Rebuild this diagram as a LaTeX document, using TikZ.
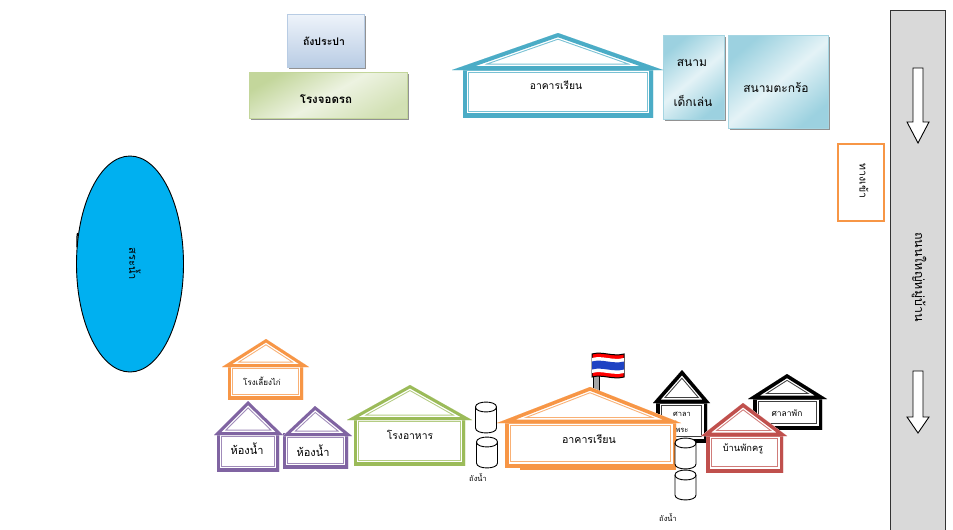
\documentclass[tikz,border=0pt]{standalone}
\usepackage{fontspec}
\usetikzlibrary{shapes.geometric,shadows}
\newfontfamily\thaifont[Script=Thai]{Loma}
\definecolor{hblue}{HTML}{4BACC6}
\definecolor{horange}{HTML}{F79646}
\definecolor{hpurple}{HTML}{8064A2}
\definecolor{hgreen}{HTML}{9BBB59}
\definecolor{hred}{HTML}{C0504D}
\definecolor{lakeblue}{HTML}{00B0F0}
\definecolor{roadgray}{HTML}{D9D9D9}
\definecolor{tapdark}{HTML}{B8CCE4}
\definecolor{taplight}{HTML}{EEF3FA}
\tikzset{
  thlabel/.style={font=\thaifont\fontsize{#1}{#1}\selectfont,text=black,inner sep=0pt},
  thlabel/.default=8,
  thbold/.style={font=\thaifont\bfseries\fontsize{#1}{#1}\selectfont,text=black,inner sep=0pt},
  softbox/.style={draw=#1,line width=0.8pt,anchor=north west,inner sep=0pt,
    drop shadow={shadow xshift=1.8pt,shadow yshift=-1.8pt,opacity=.85,fill=black!50}},
  tankline/.style={draw=black,fill=white,line width=0.9pt},
  roadarrow/.style={draw=black,fill=white,line width=0.9pt}
}
\newlength{\hband}
\newcommand{\compound}[2]{%
  \begin{scope}
    \clip #2;
    \fill[white] #2;
    \draw[#1!75,line width=2\hband+4.6pt,miter limit=20] #2;
    \draw[white,line width=2\hband+2.6pt,miter limit=20] #2;
    \draw[#1,line width=2\hband,miter limit=20] #2;
  \end{scope}}
% #1 colour, #2 apex x, #3 apex y, #4 eave left, #5 eave right, #6 eave y, #7 body left, #8 body right, #9 body bottom
\newcommand{\house}[9]{%
  \compound{#1}{(#7,#6-3) rectangle (#8,#9)}%
  \compound{#1}{(#4,#6) -- (#2,#3) -- (#5,#6) -- cycle}}
\newcommand{\flagband}[4][]{%
  \path[#1,fill=#4] (592,#2) .. controls (602,#2-3) and (613,#2+3) .. (624,#2) -- (624,#3)
    .. controls (613,#3+3) and (602,#3-3) .. (592,#3) -- cycle;}
% #1 name, #2 centre x, #3 top y, #4 height
\newcommand{\tankshape}[4]{%
  \coordinate (#1) at (#2,#3);
  \path[tankline] (#2-10.5,#3+5) .. controls (#2-10.5,#3-1.6) and (#2+10.5,#3-1.6) .. (#2+10.5,#3+5)
     -- (#2+10.5,#3+#4-5) .. controls (#2+10.5,#3+#4+1.6) and (#2-10.5,#3+#4+1.6) .. (#2-10.5,#3+#4-5) -- cycle;
  \draw[black,line width=0.9pt] (#2-10.5,#3+5) .. controls (#2-10.5,#3+11.6) and (#2+10.5,#3+11.6) .. (#2+10.5,#3+5);}
\begin{document}
\begin{tikzpicture}[x=1pt,y=-1pt]
\useasboundingbox (0,0) rectangle (953,530);
\fill[white] (0,0) rectangle (953,530);

% lake
\node[ellipse,draw=black,fill=lakeblue,line width=0.9pt,minimum width=107pt,minimum height=216pt,inner sep=0pt] (lake) at (130,264) {};
\draw[black,line width=1.2pt] (77.5,233) .. controls (76.8,237) and (76.8,242) .. (77,247);
\node[thlabel=11,rotate=-90] (laketext) at (135,264) {สระน้ำ};

% top boxes
\node[softbox=tapdark,minimum width=77pt,minimum height=53pt,top color=taplight,bottom color=tapdark] (tap) at (287,14) {};
\node[thbold=10.5] (taptext) at (324,41) {ถังประปา};
\node[softbox=hgreen!60,minimum width=158pt,minimum height=46pt,left color=hgreen!60,right color=hgreen!45,middle color=hgreen!18,shading angle=30] (garage) at (249,72) {};
\node[thbold=11.5] (garagetext) at (326,99) {โรงจอดรถ};
\node[softbox=hblue!50,minimum width=61pt,minimum height=84pt,left color=hblue!55,right color=hblue!55,middle color=hblue!15,shading angle=40] (play) at (663,35) {};
\node[thlabel=12] (playa) at (692,63) {สนาม};
\node[thlabel=12] (playb) at (693,101) {เด็กเล่น};
\node[softbox=hblue!50,minimum width=100pt,minimum height=93pt,left color=hblue!55,right color=hblue!55,middle color=hblue!15,shading angle=40] (takraw) at (728,35) {};
\node[thlabel=12] (takrawtext) at (776,88) {สนามตะกร้อ};

% top classroom
\setlength{\hband}{4pt}
\house{hblue}{558}{33}{452}{663}{70}{463}{653}{117}
\node[thlabel=10.3] (classa) at (556,85) {อาคารเรียน};

% road
\node[draw=black!80,fill=roadgray,line width=0.9pt,minimum width=55pt,minimum height=530pt,anchor=north west,inner sep=0pt] (road) at (890,10) {};
\draw[roadarrow] (913,68) -- (923,68) -- (923,122) -- (929,122) -- (918,143) -- (907,122) -- (913,122) -- cycle;
\draw[roadarrow] (913,371) -- (923,371) -- (923,417) -- (929,417) -- (918,433) -- (907,417) -- (913,417) -- cycle;
\node[thlabel=12.5,rotate=-90] (roadtext) at (919,277) {ถนนใหญ่หมู่บ้าน};

% entrance box
\node[draw=horange,fill=white,line width=2.2pt,minimum width=46pt,minimum height=77pt,anchor=north west,inner sep=0pt] (gate) at (837,143) {};
\node[thlabel=10.5,rotate=-90] (gatetext) at (864,181) {ทางเข้า};

% lower left group
\setlength{\hband}{3pt}
\house{horange}{266}{339}{222}{309}{367}{228}{303}{399}
\node[thlabel=8] (chicken) at (262,381) {โรงเลี้ยงไก่};
\house{hpurple}{248}{401}{214}{283}{435}{217}{279}{471}
\node[thlabel=11] (wca) at (247,449) {ห้องน้ำ};
\house{hpurple}{315}{406}{283}{352}{436}{283}{348}{468}
\node[thlabel=11] (wcb) at (313,451) {ห้องน้ำ};
\house{hgreen}{410}{385}{347}{472}{420}{354}{465}{465}
\node[thlabel=10.3] (canteen) at (410,435) {โรงอาหาร};
\tankshape{tanka}{486}{402}{31}
\tankshape{tankb}{487}{437}{31}
\node[thlabel=7.5] (tanktexta) at (478,478) {ถังน้ำ};

% flag
\draw[black,fill=black!35,line width=0.8pt] (593,375) rectangle (599,392);
\flagband[draw=black,line width=1pt]{354}{377}{red}
\flagband{358}{373}{white}
\flagband{361.5}{369.5}{blue!55!hblue!85!black}

% black houses
\setlength{\hband}{3.5pt}
\house{black}{682}{370}{653}{710}{403}{656}{707}{442}
\node[thlabel=7.5] (salaa) at (682,414) {ศาลา};
\node[thlabel=7.5] (salab) at (682,430) {พระ};
\house{black}{787}{374}{748}{827}{399}{753}{822}{429}
\node[thlabel=8.5] (rest) at (787,413) {ศาลาพัก};

% main classroom
\setlength{\hband}{3.5pt}
\house{horange}{590}{387}{497}{681}{423}{505}{676}{467}
\draw[horange,line width=2pt] (520,469) -- (676,469);
\node[thlabel=10.6] (classb) at (589,439) {อาคารเรียน};
\tankshape{tankc}{685.5}{438}{31}
\tankshape{tankd}{685.5}{470}{30}
\node[thlabel=7.5] (tanktextb) at (668,518) {ถังน้ำ};

% teacher house
\setlength{\hband}{3.5pt}
\house{hred}{743}{403}{701}{787}{436}{706}{783}{472}
\node[thlabel=9.3] (teacher) at (743,449) {บ้านพักครู};
\end{tikzpicture}
\end{document}
